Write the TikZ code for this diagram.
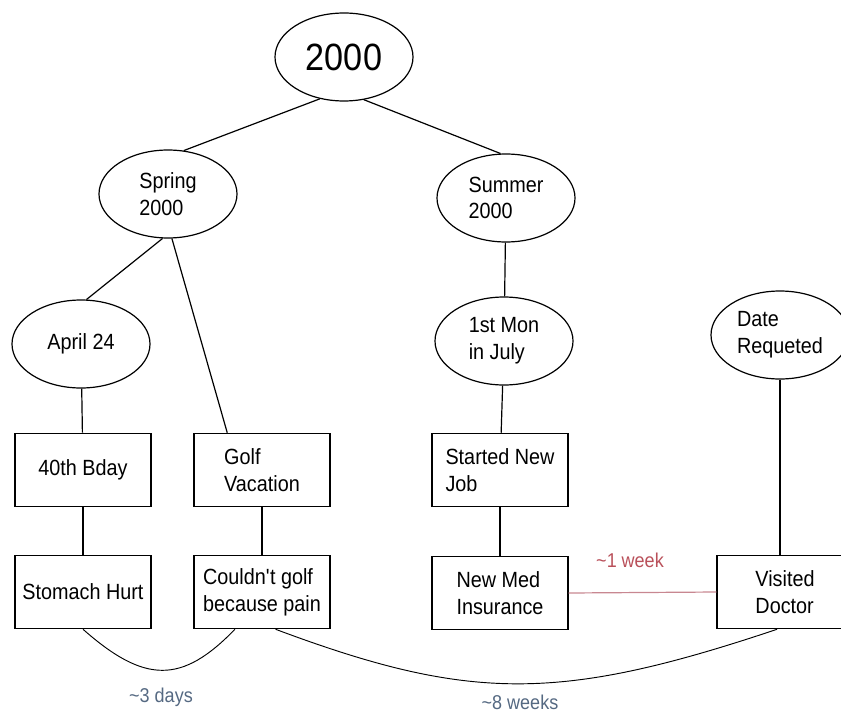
\documentclass[tikz,border=0pt]{standalone}
\usepackage{fontspec}
\setmainfont{Liberation Sans}[FakeStretch=0.9]
\usepackage{tikz}
\usetikzlibrary{shapes.geometric}
\definecolor{weekred}{RGB}{185,80,90}
\definecolor{weekline}{RGB}{200,135,145}
\definecolor{lagblue}{RGB}{85,105,130}
\tikzset{era/.style={ellipse, draw, line width=0.9pt, minimum width=103.5pt, minimum height=66pt, inner sep=2pt, align=left,
   font=\fontsize{16.5pt}{20pt}\selectfont}}
\tikzset{event/.style={rectangle, draw, line width=0.9pt, minimum width=102pt, minimum height=55pt, inner sep=2pt, align=left,
   font=\fontsize{16.5pt}{20pt}\selectfont}}
\tikzset{link/.style={line width=0.9pt}}
\tikzset{lag/.style={font=\fontsize{15pt}{18pt}\selectfont, text=lagblue}}

\begin{document}
\begin{tikzpicture}[x=0.75pt, y=-0.75pt]

    \useasboundingbox (0,0) rectangle (841,713);

    \node[era, font=\fontsize{28.5pt}{34pt}\selectfont] (year) at (344,57)  {2000};

    \node[era] (spring) at (168,194) {Spring\\2000};
    \node[era] (summer) at (506,198) {Summer\\2000};

    \node[era] (apr)  at (81,344)  {April 24};
    \node[era] (jul)  at (504,341) {1st Mon\\in July};
    \node[era] (req)  at (780,335) {Date\\Requeted};

    \node[event] (bday) at (83,470)  {40th Bday};
    \node[event] (golf) at (262,470) {Golf\\Vacation};
    \node[event] (job)  at (500,470) {Started New\\Job};

    \node[event] (stomach) at (83,592)  {Stomach Hurt};
    \node[event] (nogolf)  at (262,592) {Couldn\textquotesingle t golf\\because pain};
    \node[event] (ins)     at (500,593) {New Med\\Insurance};
    \node[event] (doctor)  at (785,592) {Visited\\Doctor};

    \draw[link] (year.240) -- (spring.70);
    \draw[link] (year.295) -- (summer.97);
    \draw[link] (spring.263) -- (apr.83);
    \draw[link] (spring.275) -- (golf.133);
    \draw[link] (summer) -- (jul);
    \draw[link] (apr) -- (bday);
    \draw[link] (jul) -- (job);
    \draw[link] (req.south) -- (req.south |- doctor.north);
    \draw[link] (bday) -- (stomach);
    \draw[link] (golf) -- (nogolf);
    \draw[link] (job) -- (ins);

    \draw[link, weekline] (ins.east) -- (doctor.west);
    \node[font=\fontsize{15pt}{18pt}\selectfont, text=weekred] (week) at (630,560) {\textasciitilde1 week};

    \draw[link, line width=0.7pt] (stomach.south) .. controls (145,684) and (182,684) .. (nogolf.234);
    \node[lag] (days) at (161,697) {\textasciitilde3 days};

    \draw[link, line width=0.7pt] (nogolf.290) .. controls (470,702) and (560,702) .. (doctor.258);
    \node[lag] (weeks) at (520,702) {\textasciitilde8 weeks};

  \end{tikzpicture}
\end{document}
